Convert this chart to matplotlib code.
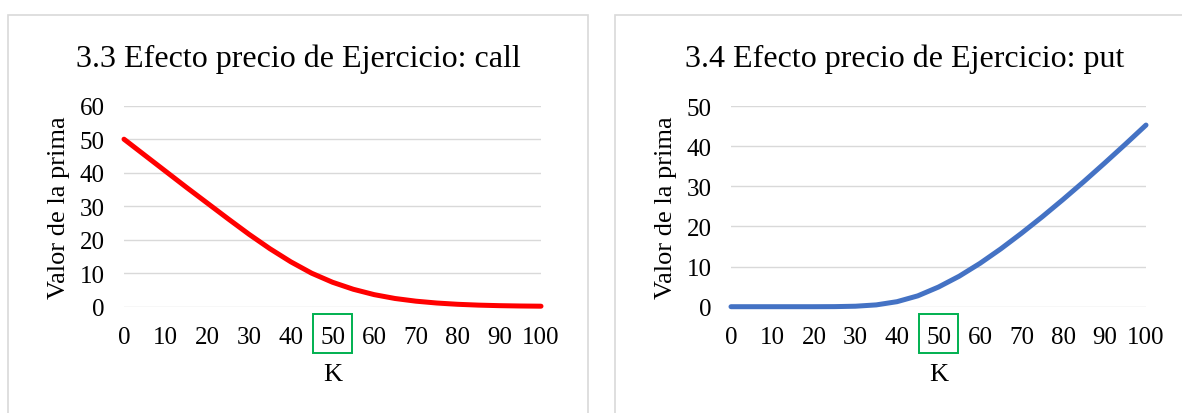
import matplotlib
matplotlib.use('Agg')
import matplotlib.pyplot as plt
import matplotlib.transforms as mtransforms
from matplotlib.patches import Rectangle

plt.rcParams['font.family'] = ['Liberation Serif', 'DejaVu Serif']

# strike prices and option premiums
strike = [0, 5, 10, 15, 20, 25, 30, 35, 40, 45, 50,
          55, 60, 65, 70, 75, 80, 85, 90, 95, 100]
call_prima = [50.0, 45.2, 40.4, 35.6, 30.9, 26.2, 21.6, 17.3, 13.4, 10.0, 7.3,
              5.2, 3.6, 2.45, 1.65, 1.1, 0.72, 0.47, 0.31, 0.21, 0.15]
put_prima = [0.0, 0.0, 0.0, 0.0, 0.0, 0.02, 0.12, 0.45, 1.25, 2.7, 4.9,
             7.6, 10.8, 14.4, 18.3, 22.4, 26.7, 31.15, 35.75, 40.45, 45.25]

call_ticks = [0, 10, 20, 30, 40, 50, 60]
put_ticks = [0, 10, 20, 30, 40, 50]
k_ticks = [0, 10, 20, 30, 40, 50, 60, 70, 80, 90, 100]

W, H = 1182, 414
fig = plt.figure(figsize=(W / 100, H / 100), dpi=100)


def px_box(x0, y0, x1, y1):
    # pixel box (top-left origin) -> figure fraction rect
    return [x0 / W, 1 - y1 / H, (x1 - x0) / W, (y1 - y0) / H]


def frame(x0, x1, y0):
    r = Rectangle((x0 / W, -0.2), (x1 - x0) / W, 1 - y0 / H + 0.2,
                  transform=fig.transFigure, fill=False,
                  edgecolor='#d9d9d9', lw=1.2, zorder=0)
    fig.patches.append(r)


def chart(rect, y, color, yticks, title, title_x):
    ax = fig.add_axes(rect)
    ax.plot(strike, y, color=color, lw=3.6, solid_capstyle='round',
            solid_joinstyle='round', clip_on=False, zorder=3)
    ax.set_xlim(0, 100)
    ax.set_ylim(0, yticks[-1])
    ax.set_xticks(k_ticks)
    ax.set_yticks(yticks)
    ax.grid(axis='y', color='#d9d9d9', lw=1.0)
    ax.set_axisbelow(True)
    for s in ax.spines.values():
        s.set_visible(False)
    ax.tick_params(length=0, labelsize=18, colors='black')
    ax.tick_params(axis='y', pad=14)
    ax.tick_params(axis='x', pad=14)
    ax.set_xlabel('K', fontsize=19, labelpad=11)
    ax.set_ylabel('Valor de la prima', fontsize=19, labelpad=7)
    fig.text(title_x / W, 1 - 67 / H, title, fontsize=23,
             ha='center', va='baseline')
    # highlight box around the K = 50 label
    trans = mtransforms.blended_transform_factory(ax.transData, ax.transAxes)
    ax.add_patch(Rectangle((45.3, -0.232), 9.4, 0.196, transform=trans,
                           fill=False, edgecolor='#00b050', lw=1.4,
                           clip_on=False))
    return ax


frame(7.5, 588, 16)
frame(615, 1230, 16)

chart(px_box(124, 106.7, 541, 307.7), call_prima, '#ff0000', call_ticks,
      '3.3 Efecto precio de Ejercicio: call', 298)
chart(px_box(731, 107, 1146, 307.7), put_prima, '#4472c4', put_ticks,
      '3.4 Efecto precio de Ejercicio: put', 905)

fig.savefig('out.png', dpi=100, facecolor='white')
